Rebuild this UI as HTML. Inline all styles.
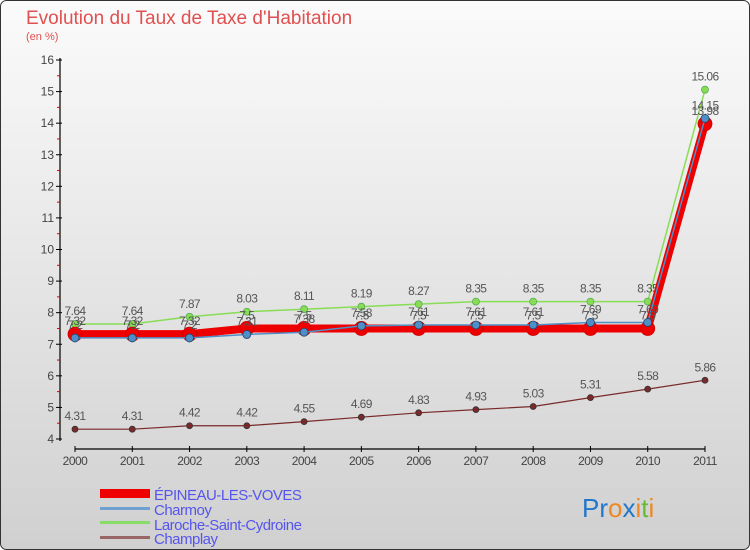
<!DOCTYPE html>
<html><head><meta charset="utf-8"><style>
body{margin:0;width:750px;height:550px;overflow:hidden;font-family:"Liberation Sans",sans-serif}
svg{display:block}
</style></head><body>
<svg id="c" width="750" height="550" xmlns="http://www.w3.org/2000/svg">
<defs><linearGradient id="bg" x1="0" y1="0" x2="0" y2="1"><stop offset="0" stop-color="#fbfbfb"/><stop offset="1" stop-color="#d0d0d0"/></linearGradient></defs>
<rect x="0.5" y="0.5" width="749" height="549" rx="6" fill="url(#bg)" stroke="#333"/>
<text x="26" y="24" font-size="19" fill="#e05050">Evolution du Taux de Taxe d'Habitation</text>
<text x="26" y="40" font-size="11" fill="#e05050">(en %)</text>
<g id="axes"></g><g id="series"></g>
<g>
<rect x="100" y="489" width="50" height="9" fill="#ee0000"/>
<text x="154" y="500" font-size="15" fill="#5555ee" letter-spacing="-0.5">ÉPINEAU-LES-VOVES</text>
<rect x="100" y="507" width="50" height="3" fill="#6fa0d0"/>
<text x="154" y="515" font-size="15" fill="#5555ee" letter-spacing="-0.5">Charmoy</text>
<rect x="100" y="521" width="50" height="3" fill="#88dd66"/>
<text x="154" y="530" font-size="15" fill="#5555ee" letter-spacing="-0.5">Laroche-Saint-Cydroine</text>
<rect x="100" y="536" width="50" height="3" fill="#996666"/>
<text x="154" y="544" font-size="15" fill="#5555ee" letter-spacing="-0.5">Champlay</text>
</g>
<text x="582" y="517" font-size="26"><tspan fill="#2277cc">Pr</tspan><tspan fill="#ee8822">o</tspan><tspan fill="#2277cc">x</tspan><tspan fill="#ee8822">i</tspan><tspan fill="#66bb33">t</tspan><tspan fill="#ee8822">i</tspan></text>
</svg>
<script>
const years=["2000","2001","2002","2003","2004","2005","2006","2007","2008","2009","2010","2011"];
const yTicks=[4,5,6,7,8,9,10,11,12,13,14,15,16];
const epineau=[7.32,7.32,7.32,7.5,7.5,7.5,7.5,7.5,7.5,7.5,7.5,13.98];
const charmoy=[7.2,7.2,7.2,7.31,7.38,7.58,7.61,7.61,7.61,7.69,7.69,14.15];
const laroche=[7.64,7.64,7.87,8.03,8.11,8.19,8.27,8.35,8.35,8.35,8.35,15.06];
const champlay=[4.31,4.31,4.42,4.42,4.55,4.69,4.83,4.93,5.03,5.31,5.58,5.86];
const NS="http://www.w3.org/2000/svg";
const X=i=>75+i*(630/11);
const Y=v=>439-(v-4)*(379/12);
function mk(p,t,a){const e=document.createElementNS(NS,t);for(const k in a)e.setAttribute(k,a[k]);p.appendChild(e);return e;}
const ax=document.getElementById('axes');
let l=mk(ax,'line',{x1:60,y1:58,x2:60,y2:441,stroke:'#000','stroke-width':1.2});


yTicks.forEach(v=>{
 let t=mk(ax,'line',{x1:56,y1:Y(v),x2:62,y2:Y(v),stroke:'#000'});
 
 
 if(v<16){let m=mk(ax,'line',{x1:57,y1:Y(v+0.5),x2:60,y2:Y(v+0.5),stroke:'#d00'});
 
 }
 let tx=mk(ax,'text',{x:54,y:Y(v)+4,'font-size':12,fill:'#444','text-anchor':'end'});tx.textContent=v;
 
 
});
l=mk(ax,'line',{x1:75,y1:449,x2:705,y2:449,stroke:'#000','stroke-width':1.2});


years.forEach((y,i)=>{
 let t=mk(ax,'line',{x1:X(i),y1:446,x2:X(i),y2:452,stroke:'#000'});
 
 
 let tx=mk(ax,'text',{x:X(i),y:465,'font-size':12,fill:'#444','text-anchor':'middle','letter-spacing':'-0.5'});tx.textContent=y;
 
 
});
const sg=document.getElementById('series');
function draw(name,data,color,w,r,stroke){
 const g=mk(sg,'g',{});
 
 
 const pl=mk(g,'polyline',{points:data.map((v,i)=>X(i)+','+Y(v)).join(' '),fill:'none',stroke:color,'stroke-width':w});
 
 
 data.forEach((v,i)=>{
  const c=mk(g,'circle',{cx:X(i),cy:Y(v),r:r,fill:color,stroke:stroke,'stroke-width':0.8});
  
  
  const t=mk(g,'text',{x:X(i),y:Y(v)-9,'font-size':12,fill:'#555','text-anchor':'middle','letter-spacing':'-0.6'});t.textContent=v;
  
  
 });
}
draw('champlay',champlay,'#7a2a2a',1.2,3,'#333');
draw('laroche',laroche,'#88dd55',1.5,3.5,'#5a5');
draw('epineau',epineau,'#ee0000',8,7,'#c00');
draw('charmoy',charmoy,'#4f8fc8',1.5,4,'#246');
</script>
</body></html>
